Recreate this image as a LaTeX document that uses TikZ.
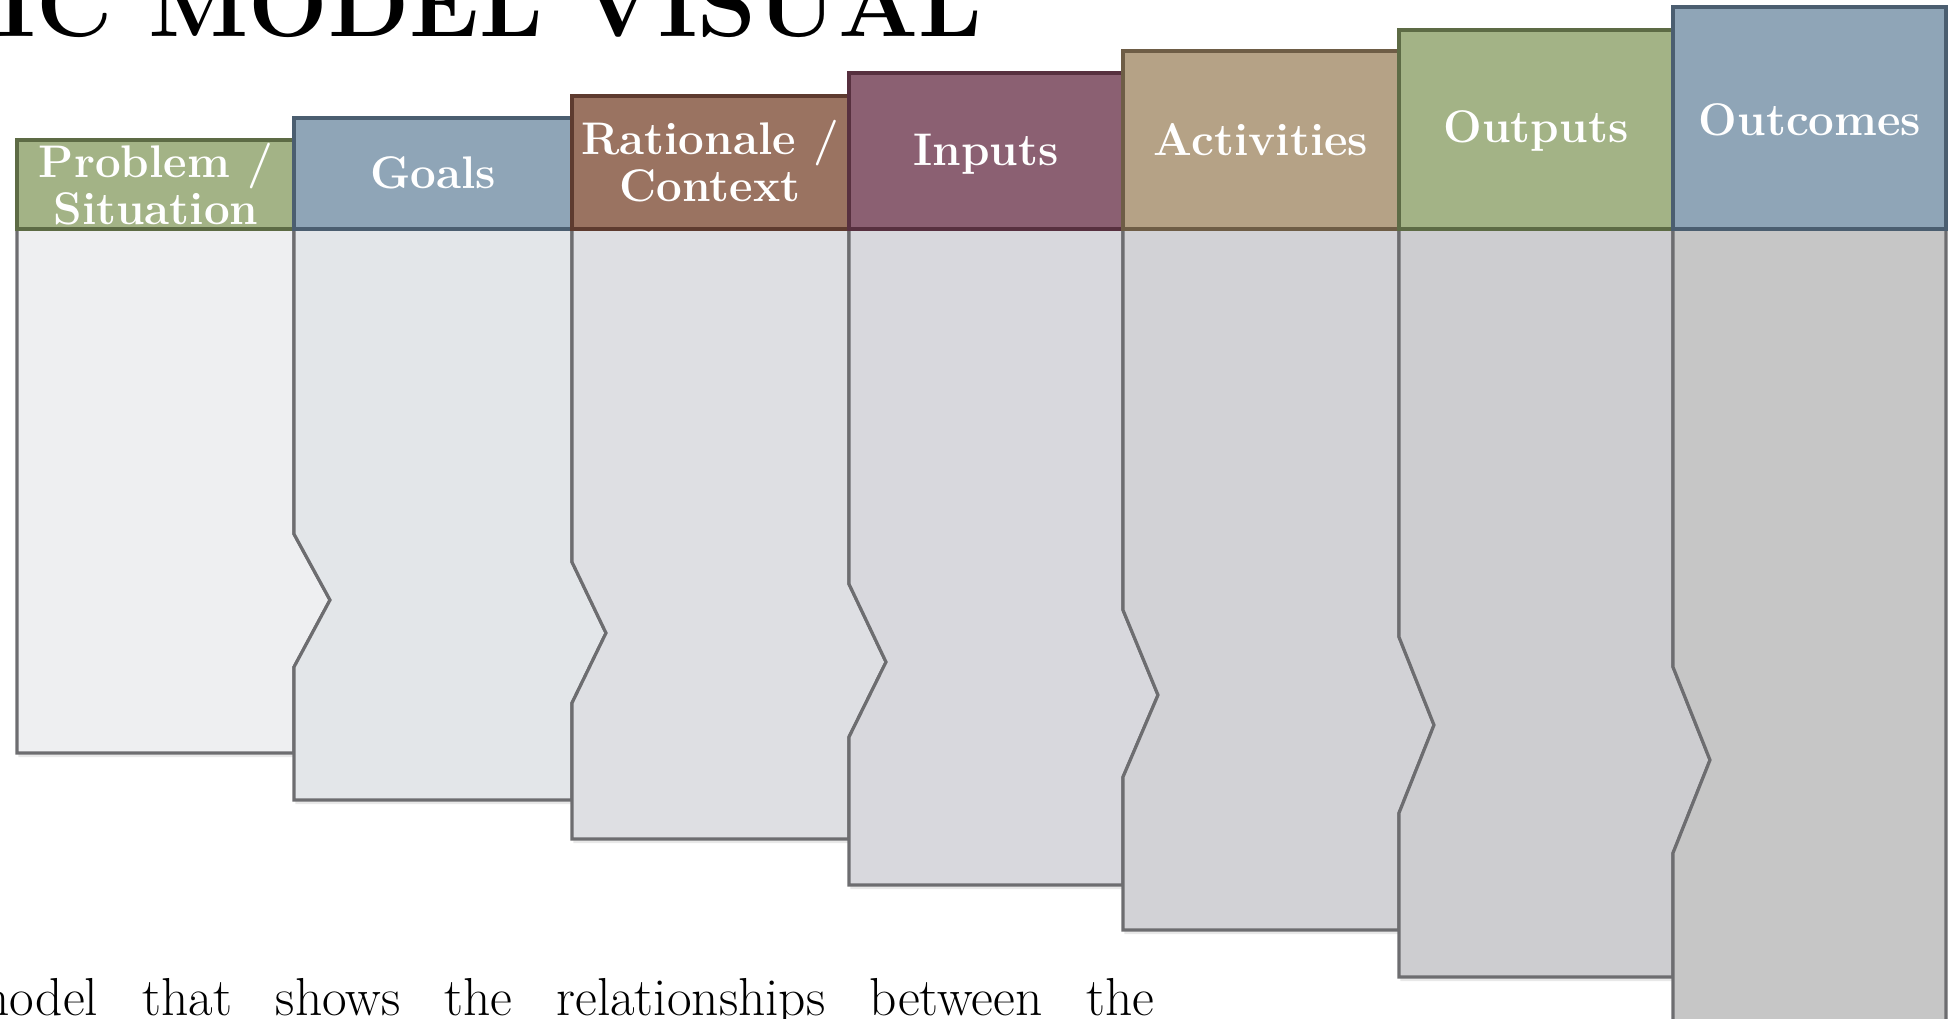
\documentclass[tikz,border=0pt]{standalone}
\usepackage{fontspec}
\usetikzlibrary{shadows}

\definecolor{hdrgreen}{HTML}{A3B386}
\definecolor{hdrgreenline}{HTML}{5D6B45}
\definecolor{hdrblue}{HTML}{8FA5B7}
\definecolor{hdrblueline}{HTML}{4B5E70}
\definecolor{hdrbrown}{HTML}{9A7361}
\definecolor{hdrbrownline}{HTML}{5E3B2F}
\definecolor{hdrmauve}{HTML}{8B6072}
\definecolor{hdrmauveline}{HTML}{57303F}
\definecolor{hdrtan}{HTML}{B5A286}
\definecolor{hdrtanline}{HTML}{6E5D46}
\definecolor{bodyline}{HTML}{6D6D70}
\definecolor{bodyA}{HTML}{EEEFF1}
\definecolor{bodyB}{HTML}{E3E6E9}
\definecolor{bodyC}{HTML}{DEDFE3}
\definecolor{bodyD}{HTML}{D8D8DD}
\definecolor{bodyE}{HTML}{D2D2D6}
\definecolor{bodyF}{HTML}{CDCDD0}
\definecolor{bodyG}{HTML}{C6C6C6}

\begin{document}
\begin{tikzpicture}[x=0.01cm,y=-0.01cm,
    head/.style={line width=0.9pt},
    body/.style={draw=bodyline,line width=0.9pt,
      drop shadow={opacity=0.18,shadow xshift=0.4pt,shadow yshift=-1.2pt}},
    lbl/.style={text=white,align=center,
      font=\fontsize{13}{13.5}\selectfont\bfseries}]
        % \draw[step=100,gray,very thin] (0,0) grid (1949,1018);
        \useasboundingbox (0,0) rectangle (1949,1018);

        % title and text
        \draw (-4,36) node[anchor=base west,inner sep=0pt,
          font=\fontsize{26.8}{30}\selectfont\bfseries] (title) {IC MODEL VISUAL};
        \draw (-32,1015) node[anchor=base west,inner sep=0pt,
          font=\fontsize{15.2}{18}\selectfont] (text)
          {\makebox[11.85cm][s]{model that shows the relationships between the}};

        % bodies
        \filldraw[body,fill=bodyA] (17,229) -- (294,229) -- (294,534) -- (330,600)
          -- (294,667) -- (294,753) -- (17,753) -- cycle;
        \filldraw[body,fill=bodyB] (294,229) -- (572,229) -- (572,562) -- (606,633)
          -- (572,703) -- (572,800) -- (294,800) -- (294,667) -- (330,600)
          -- (294,534) -- cycle;
        \filldraw[body,fill=bodyC] (572,229) -- (849,229) -- (849,584) -- (886,662)
          -- (849,737) -- (849,839) -- (572,839) -- (572,703) -- (606,633)
          -- (572,562) -- cycle;
        \filldraw[body,fill=bodyD] (849,229) -- (1123,229) -- (1123,610) -- (1158,695)
          -- (1123,777) -- (1123,885) -- (849,885) -- (849,737) -- (886,662)
          -- (849,584) -- cycle;
        \filldraw[body,fill=bodyE] (1123,229) -- (1399,229) -- (1399,637) -- (1434,725)
          -- (1399,813) -- (1399,930) -- (1123,930) -- (1123,777) -- (1158,695)
          -- (1123,610) -- cycle;
        \filldraw[body,fill=bodyF] (1399,229) -- (1673,229) -- (1673,667) -- (1710,760)
          -- (1673,853) -- (1673,977) -- (1399,977) -- (1399,813) -- (1434,725)
          -- (1399,637) -- cycle;
        \filldraw[body,fill=bodyG] (1673,229) -- (1946,229) -- (1946,1040)
          -- (1673,1040) -- (1673,853) -- (1710,760) -- (1673,667) -- cycle;

        % headers
        \filldraw[head,fill=hdrgreen,draw=hdrgreenline] (17,140) rectangle (294,229);
        \draw (156,184) node[lbl] (problem) {Problem /\\Situation};
        \filldraw[head,fill=hdrblue,draw=hdrblueline] (294,118) rectangle (572,229);
        \draw (433,173) node[lbl] (goals) {Goals};
        \filldraw[head,fill=hdrbrown,draw=hdrbrownline] (572,96) rectangle (849,229);
        \draw (710,161) node[lbl] (rationale) {Rationale /\\Context};
        \filldraw[head,fill=hdrmauve,draw=hdrmauveline] (849,73) rectangle (1123,229);
        \draw (986,154) node[lbl] (inputs) {Inputs};
        \filldraw[head,fill=hdrtan,draw=hdrtanline] (1123,51) rectangle (1399,229);
        \draw (1261,140) node[lbl] (activities) {Activities};
        \filldraw[head,fill=hdrgreen,draw=hdrgreenline] (1399,30) rectangle (1673,229);
        \draw (1536,131) node[lbl] (outputs) {Outputs};
        \filldraw[head,fill=hdrblue,draw=hdrblueline] (1673,7) rectangle (1946,229);
        \draw (1810,120) node[lbl] (outcomes) {Outcomes};

      \end{tikzpicture}
\end{document}
